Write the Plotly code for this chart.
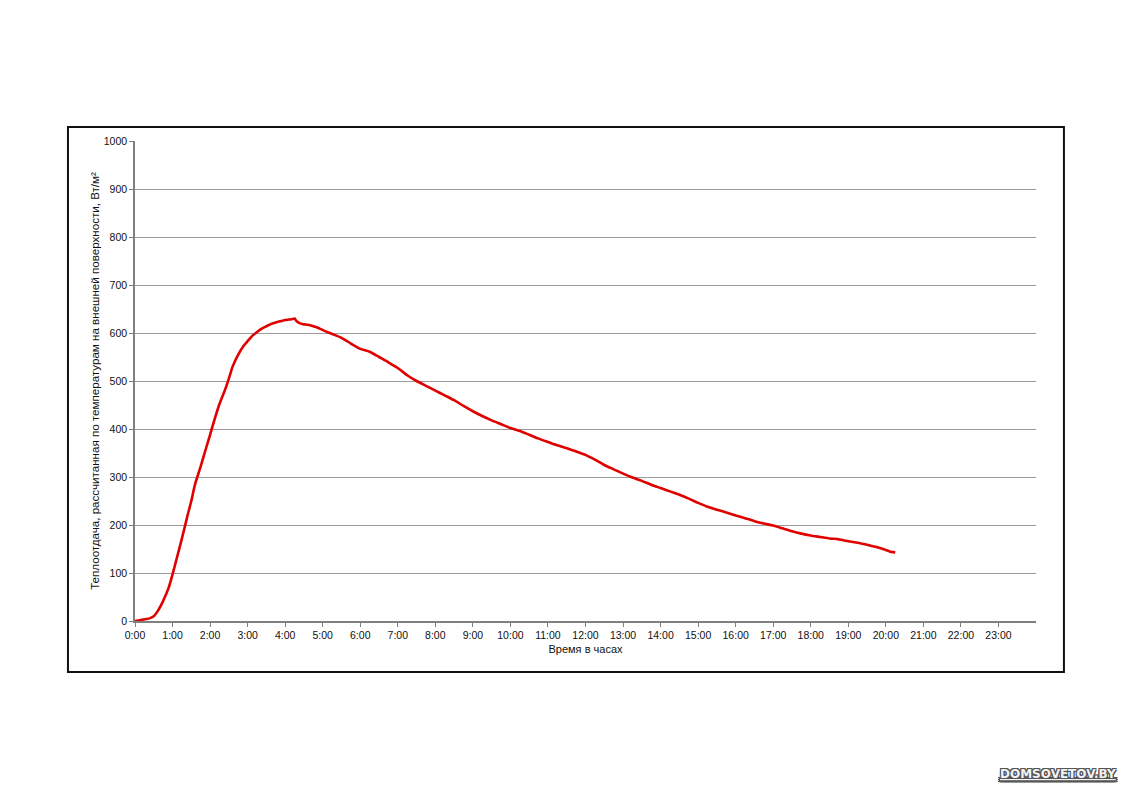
import plotly.graph_objects as go

# time in hours
hours = [0.0, 0.15, 0.3, 0.4, 0.5, 0.6, 0.75, 0.9, 1.0, 1.1, 1.25, 1.4, 1.5, 1.6, 1.75, 1.9, 2.0,
         2.1, 2.25, 2.4, 2.5, 2.6, 2.75, 2.9, 3.0, 3.15, 3.25, 3.4, 3.5, 3.6, 3.75, 3.9, 4.0,
         4.1, 4.2, 4.25, 4.3, 4.4, 4.5, 4.6, 4.75, 4.9, 5.0, 5.25, 5.5, 5.75, 6.0, 6.25, 6.5,
         6.75, 7.0, 7.25, 7.5, 7.75, 8.0, 8.25, 8.5, 8.75, 9.0, 9.25, 9.5, 9.75, 10.0, 10.25,
         10.5, 10.75, 11.0, 11.25, 11.5, 11.75, 12.0, 12.25, 12.5, 12.75, 13.0, 13.25, 13.5,
         13.75, 14.0, 14.25, 14.5, 14.75, 15.0, 15.25, 15.5, 15.75, 16.0, 16.25, 16.5, 16.75,
         17.0, 17.25, 17.5, 17.75, 18.0, 18.25, 18.5, 18.75, 19.0, 19.25, 19.5, 19.75, 20.0,
         20.1, 20.25]
# heat output, W/m2
heat = [0, 2, 4, 6, 10, 20, 42, 70, 97, 127, 172, 220, 250, 285, 322, 362, 388,
        415, 452, 482, 505, 530, 555, 574, 583, 596, 602, 610, 614, 618, 622, 625, 627,
        628, 629, 630, 625, 620, 618, 617, 614, 610, 606, 598, 590, 578, 567, 561, 550,
        539, 527, 512, 500, 490, 480, 470, 460, 448, 437, 427, 418, 410, 402, 396,
        388, 380, 373, 366, 360, 353, 346, 336, 325, 316, 307, 299, 292, 284,
        277, 270, 263, 255, 246, 238, 232, 226, 220, 214, 208, 203,
        199, 193, 187, 182, 178, 175, 172, 170, 166, 163, 159, 154, 148,
        145, 143]

tick_hours = list(range(0, 24))
tick_labels = [f"{h}:00" for h in tick_hours]
y_ticks = list(range(0, 1001, 100))

fig = go.Figure()
fig.add_trace(go.Scatter(
    x=hours, y=heat, mode="lines",
    line=dict(color="#e00000", width=2.6, shape="spline", smoothing=0.6),
    showlegend=False, hoverinfo="skip"))

axis_font = dict(family="Liberation Sans, Arial, sans-serif", size=10.5, color="#111")
title_font = dict(family="Liberation Sans, Arial, sans-serif", size=11, color="#111")
ytitle_font = dict(family="Liberation Sans, Arial, sans-serif", size=11.6, color="#111")

fig.update_layout(
    width=1124, height=792,
    margin=dict(l=127, r=96, t=133, b=179),
    paper_bgcolor="white", plot_bgcolor="white",
    font=axis_font,
    xaxis=dict(
        range=[0, 24], tickvals=tick_hours, ticktext=tick_labels,
        showgrid=False, zeroline=False,
        showline=True, linecolor="#808080", linewidth=1.5,
        ticks="outside", ticklen=4, tickcolor="#808080", tickwidth=1,
        tickfont=axis_font,
        title=dict(text="Время в часах", font=title_font, standoff=5),
    ),
    yaxis=dict(
        range=[0, 1000], tickvals=y_ticks,
        showgrid=True, gridcolor="#9a9a9a", gridwidth=1,
        zeroline=False,
        showline=True, linecolor="#808080", linewidth=1.5,
        ticks="outside", ticklen=4, tickcolor="#808080", tickwidth=1,
        tickfont=axis_font,
        title=dict(text="Теплоотдача, рассчитанная по температурам на внешней поверхности, Вт/м²",
                   font=ytitle_font, standoff=2),
    ),
    shapes=[dict(type="rect", xref="paper", yref="paper",
                 x0=-0.0744, x1=1.031, y0=-0.106, y1=1.029,
                 line=dict(color="#111", width=2), fillcolor="rgba(0,0,0,0)", layer="below")],
    annotations=[dict(
        text="<u>DOMSOVETOV.BY</u>", xref="paper", yref="paper",
        x=(1118 - 135) / 901, y=(621 - 774) / 480, xanchor="right", yanchor="middle",
        showarrow=False,
        font=dict(family="DejaVu Sans, sans-serif", size=12, color="#f2f2f2", weight="bold",
                  shadow="-1px -1px 0 #555, 1px -1px 0 #555, -1px 1px 0 #555, 1px 1px 0 #555"),
    )],
)

fig.write_html("out.html")
